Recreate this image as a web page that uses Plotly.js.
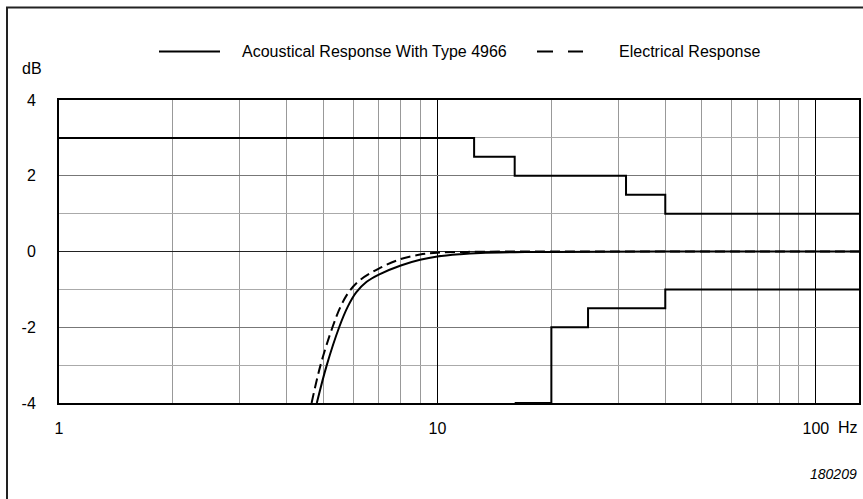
<!DOCTYPE html>
<html>
<head>
<meta charset="utf-8">
<script src="https://cdn.plot.ly/plotly-3.0.1.min.js"></script>
<style>html,body{margin:0;padding:0;background:#fff;}#chart{width:863px;height:499px;}</style>
</head>
<body>
<div id="chart"></div>
<script>
// Acoustical response (solid)
const freqAcoustic = [4.80, 5.10, 5.50, 5.80, 6.10, 6.5, 7, 8, 9, 10, 11.5, 13, 16, 20, 40, 130];
const dbAcoustic   = [-4, -3, -2, -1.45, -1.08, -0.80, -0.61, -0.37, -0.22, -0.13, -0.07, -0.04, -0.02, -0.01, 0, 0];
// Electrical response (dashed)
const freqElectric = [4.65, 4.91, 5.28, 5.55, 5.85, 6.25, 7, 8, 9, 10, 12, 20, 130];
const dbElectric   = [-4, -3, -2, -1.45, -1.05, -0.75, -0.45, -0.20, -0.08, -0.03, -0.01, 0, 0];
// Tolerance limits
const freqUpper = [1, 12.5, 12.5, 16, 16, 31.5, 31.5, 40, 40, 130];
const dbUpper   = [3, 3, 2.5, 2.5, 2, 2, 1.5, 1.5, 1, 1];
const freqLower = [16, 20, 20, 25, 25, 40, 40, 130];
const dbLower   = [-4, -4, -2, -2, -1.5, -1.5, -1, -1];
// Axis ticks
const xTickVals = [1, 10, 100];
const xTickText = ['1', '10', '100'];
const xMinorVals = [2,3,4,5,6,7,8,9,20,30,40,50,60,70,80,90];
const yTickVals = [-4, -2, 0, 2, 4];
const yTickText = ['-4', '-2', '0', '2', '4'];
const legendNames = ['Acoustical Response With Type 4966', 'Electrical Response'];

const FONT = 'Liberation Sans, Arial, sans-serif';
const black = '#000';

const traces = [
  {x: freqUpper, y: dbUpper, mode: 'lines', line: {color: black, width: 2, shape: 'linear'}, showlegend: false, hoverinfo: 'skip'},
  {x: freqLower, y: dbLower, mode: 'lines', line: {color: black, width: 2, shape: 'linear'}, showlegend: false, hoverinfo: 'skip'},
  {x: freqElectric, y: dbElectric, mode: 'lines', name: legendNames[1], line: {color: black, width: 2, dash: '10px,5px', shape: 'spline', smoothing: 1}, showlegend: false},
  {x: freqAcoustic, y: dbAcoustic, mode: 'lines', name: legendNames[0], line: {color: black, width: 2, shape: 'spline', smoothing: 1}, showlegend: false}
];

const px = v => (v - 59) / 800;
const py = v => (402.7 - v) / 302.4;

const layout = {
  width: 863, height: 499,
  margin: {l: 59, r: 4, t: 100, b: 96, pad: 0},
  paper_bgcolor: '#fff', plot_bgcolor: '#fff',
  font: {family: FONT, size: 16, color: '#000'},
  showlegend: false,
  xaxis: {
    type: 'log', range: [0, Math.log10(130)],
    tickmode: 'array', tickvals: xTickVals, ticktext: xTickText,
    ticks: 'outside', ticklen: 10, tickcolor: 'rgba(0,0,0,0)',
    showgrid: true, gridcolor: '#000', gridwidth: 1,
    minor: {tickvals: xMinorVals, showgrid: true, gridcolor: '#999', gridwidth: 1, ticks: ''},
    showline: true, linecolor: '#000', linewidth: 2, mirror: true,
    zeroline: false, tickfont: {family: FONT, size: 16}
  },
  yaxis: {
    range: [-4, 4],
    tickmode: 'array', tickvals: yTickVals, ticktext: yTickText,
    ticks: 'outside', ticklen: 18, tickcolor: 'rgba(0,0,0,0)',
    showgrid: true, gridcolor: '#777', gridwidth: 1,
    minor: {dtick: 1, showgrid: true, gridcolor: '#aaa', gridwidth: 1, ticks: ''},
    zeroline: true, zerolinecolor: '#222', zerolinewidth: 1,
    showline: true, linecolor: '#000', linewidth: 2, mirror: true,
    tickfont: {family: FONT, size: 16}
  },
  shapes: [
    {type: 'rect', xref: 'paper', yref: 'paper', x0: px(7), x1: px(870), y0: py(506), y1: py(8), line: {color: '#222', width: 2}, fillcolor: 'rgba(0,0,0,0)', layer: 'below'},
    {type: 'line', xref: 'paper', yref: 'paper', x0: px(159), x1: px(220), y0: py(52), y1: py(52), line: {color: '#000', width: 2}},
    {type: 'line', xref: 'paper', yref: 'paper', x0: px(537), x1: px(583), y0: py(52), y1: py(52), line: {color: '#000', width: 2, dash: '16px,15px'}}
  ],
  annotations: [
    {xref: 'paper', yref: 'paper', x: px(240), y: py(52), xanchor: 'left', yanchor: 'middle', text: legendNames[0], showarrow: false, font: {family: FONT, size: 16}},
    {xref: 'paper', yref: 'paper', x: px(617), y: py(52), xanchor: 'left', yanchor: 'middle', text: legendNames[1], showarrow: false, font: {family: FONT, size: 16}},
    {xref: 'paper', yref: 'paper', x: px(32), y: py(69), xanchor: 'center', yanchor: 'middle', text: 'dB', showarrow: false, font: {family: FONT, size: 16}},
    {xref: 'paper', yref: 'paper', x: px(848), y: py(427), xanchor: 'center', yanchor: 'middle', text: 'Hz', showarrow: false, font: {family: FONT, size: 16}},
    {xref: 'paper', yref: 'paper', x: px(859), y: py(474), xanchor: 'right', yanchor: 'middle', text: '<i>180209</i>', showarrow: false, font: {family: FONT, size: 14}}
  ]
};

Plotly.newPlot('chart', traces, layout, {displayModeBar: false, staticPlot: true});
</script>
</body>
</html>
